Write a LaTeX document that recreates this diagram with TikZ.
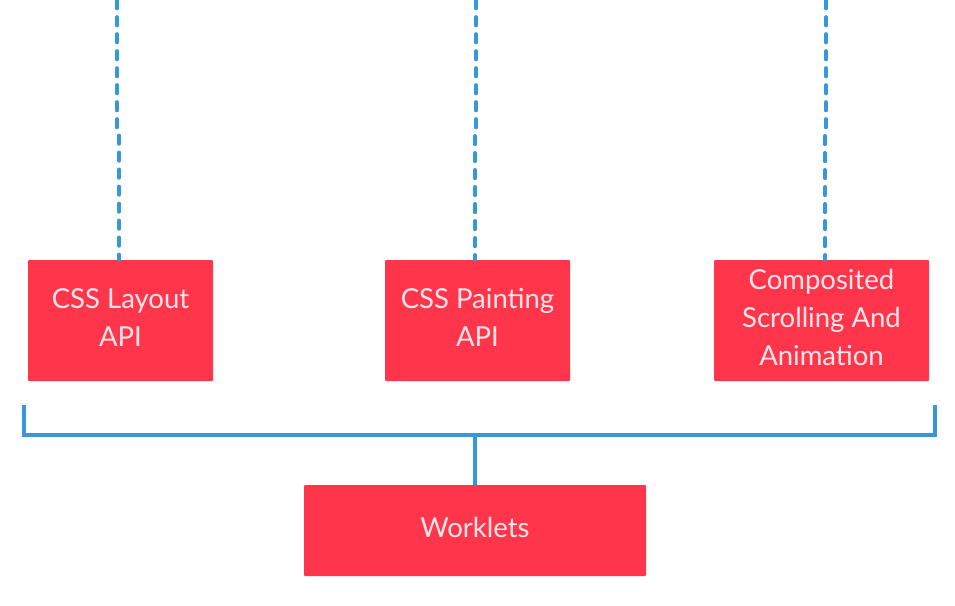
\documentclass[tikz,border=0pt]{standalone}
\usepackage{fontspec}
\setmainfont{Lato}
\definecolor{boxred}{HTML}{FF364B}
\definecolor{linkblue}{HTML}{3498DB}
\definecolor{boxtext}{HTML}{FFE6E8}
\begin{document}
\begin{tikzpicture}[x=1pt,y=-1pt,
  redbox/.style={fill=boxred,draw=none,rounded corners=1pt,inner sep=0pt},
  boxlabel/.style={text=boxtext,align=center,inner sep=0pt,font=\fontsize{27.5}{38}\selectfont,yshift=3pt},
  dashlink/.style={draw=linkblue,line width=3.6pt,line cap=round,dash pattern=on 8.5pt off 8.5pt},
  solidlink/.style={draw=linkblue,line width=3.6pt}]
\useasboundingbox (0,0) rectangle (955,605);
\node[redbox,minimum width=185pt,minimum height=121pt] (lay) at (120.5,320.5) {};
\node[redbox,minimum width=185pt,minimum height=121pt] (pai) at (477.5,320.5) {};
\node[redbox,minimum width=215pt,minimum height=121pt] (com) at (821.5,320.5) {};
\node[redbox,minimum width=342pt,minimum height=91pt] (wor) at (475,530.5) {};
\node[boxlabel] (layt) at (lay.center) {CSS Layout\\API};
\node[boxlabel] (pait) at (pai.center) {CSS Painting\\API};
\node[boxlabel] (comt) at (com.center) {Composited\\Scrolling And\\Animation};
\node[boxlabel] (wort) at (wor.center) {Worklets};
\coordinate (t1) at (117,0); \coordinate (m1) at (117,128); \coordinate (n1) at (119,131);
\coordinate (t2) at (476,0); \coordinate (m2) at (476,128); \coordinate (n2) at (475,131);
\coordinate (t3) at (826,0); \coordinate (m3) at (826,128); \coordinate (n3) at (825,131);
\draw[dashlink] (t1) -- (m1) -- (n1) -- (n1 |- lay.north);
\draw[dashlink] (t2) -- (m2) -- (n2) -- (n2 |- pai.north);
\draw[dashlink] (t3) -- (m3) -- (n3) -- (n3 |- com.north);
\coordinate (bl) at (24,405); \coordinate (br) at (935,405);
\coordinate (hl) at (24,435); \coordinate (hr) at (935,435);
\coordinate (hc) at (475,435);
\draw[solidlink] (bl) -- (hl) -- (hr) -- (br);
\draw[solidlink] (hc) -- (wor.north);
\end{tikzpicture}
\end{document}
